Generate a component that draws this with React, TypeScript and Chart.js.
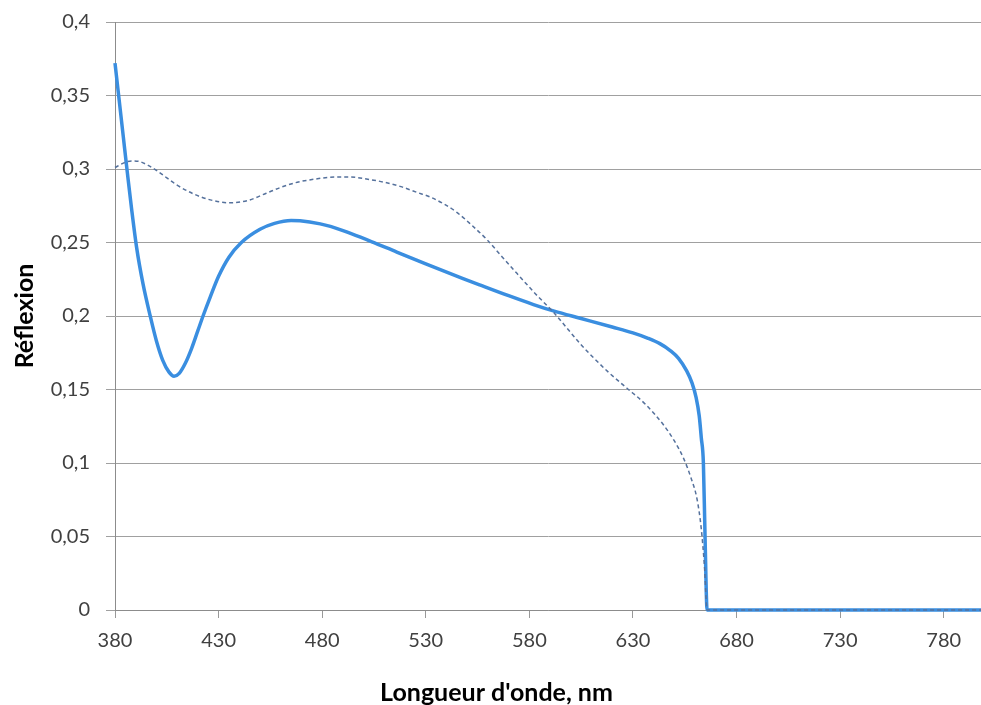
import React, { useEffect, useRef } from 'react';
import { Chart, registerables } from 'chart.js';

Chart.register(...registerables);

// Solid curve (thick blue)
const solidWavelengths = [
  380, 382, 384, 386, 388, 390.5, 393.5, 397, 400, 403, 406, 408.5, 411, 414, 417, 420, 422.5, 426, 430, 435,
  441, 450, 457, 465, 474, 484, 494, 504, 516, 530, 548, 556, 570, 582, 592, 605, 620, 630, 637, 643,
  648, 652, 656, 658.5, 660.5, 662, 663, 664, 664.8, 665.8, 700, 800,
];
const solidReflexion = [
  0.372, 0.347, 0.322, 0.297, 0.273, 0.246, 0.222, 0.2, 0.183, 0.17, 0.162, 0.159, 0.161, 0.168, 0.178, 0.19, 0.2, 0.213, 0.227, 0.24,
  0.25, 0.259, 0.263, 0.265, 0.264, 0.261, 0.256, 0.2505, 0.2435, 0.2355, 0.2255, 0.2212, 0.2138, 0.2078, 0.2033, 0.1983, 0.1925, 0.1885, 0.185, 0.1812,
  0.1765, 0.1712, 0.1625, 0.1545, 0.1445, 0.132, 0.117, 0.1, 0.05, 0, 0, 0,
];

// Dashed curve (thin grey-blue)
const dashedWavelengths = [
  380, 384, 388, 392, 396, 400, 405, 410, 418, 426, 435, 444, 453, 460, 468, 476, 486, 494, 502, 510,
  518, 526, 532, 539, 545, 552, 559.5, 567, 574, 583, 592, 598, 604.6, 610, 618, 627, 636, 644.7, 650, 654.5,
  658, 661, 663, 664.5, 665.8, 700, 800,
];
const dashedReflexion = [
  0.301, 0.304, 0.3055, 0.305, 0.3025, 0.299, 0.294, 0.289, 0.283, 0.279, 0.277, 0.2785, 0.2835, 0.2875, 0.291, 0.293, 0.2945, 0.2945, 0.293, 0.291,
  0.288, 0.284, 0.281, 0.276, 0.2705, 0.262, 0.252, 0.24, 0.229, 0.215, 0.202, 0.192, 0.181, 0.173, 0.162, 0.151, 0.14, 0.126, 0.115, 0.103,
  0.09, 0.075, 0.055, 0.03, 0, 0, 0,
];

const xTickValues = [380, 430, 480, 530, 580, 630, 680, 730, 780];
const yTickValues = [0, 0.05, 0.1, 0.15, 0.2, 0.25, 0.3, 0.35, 0.4];
const yTickLabels = ['0', '0,05', '0,1', '0,15', '0,2', '0,25', '0,3', '0,35', '0,4'];

const xAxisTitle = "Longueur d'onde, nm";
const yAxisTitle = 'Réflexion';

export default function App() {
  const canvasRef = useRef<HTMLCanvasElement | null>(null);

  useEffect(() => {
    const canvas = canvasRef.current;
    if (!canvas) return;
    const tickFont = { family: 'Lato', size: 20 };
    const titleFont = { family: 'Lato', size: 25, weight: 'bold' as const, lineHeight: 1 };
    const chart = new Chart(canvas, {
      type: 'line',
      data: {
        datasets: [
          {
            label: 'solid',
            data: solidWavelengths.map((x, i) => ({ x, y: solidReflexion[i] })),
            borderColor: '#3a8ee0',
            borderWidth: 3.5,
            pointRadius: 0,
            fill: false,
            cubicInterpolationMode: 'monotone',
            order: 1,
            clip: 4,
          },
          {
            label: 'dashed',
            data: dashedWavelengths.map((x, i) => ({ x, y: dashedReflexion[i] })),
            borderColor: '#55719c',
            borderWidth: 1.5,
            borderDash: [4, 3],
            pointRadius: 0,
            fill: false,
            cubicInterpolationMode: 'monotone',
            order: 0,
            clip: 4,
          },
        ],
      },
      options: {
        animation: false,
        responsive: false,
        events: [],
        layout: { padding: { top: 22, left: 12, right: 0, bottom: 0 } },
        plugins: {
          legend: { display: false },
          tooltip: { enabled: false },
          title: {
            display: true,
            text: xAxisTitle,
            position: 'bottom',
            align: 'center',
            color: '#000000',
            font: titleFont,
            padding: { top: 0, bottom: 0 },
          },
        },
        scales: {
          x: {
            type: 'linear',
            min: 380,
            max: 798,
            afterBuildTicks: (s: any) => {
              s.ticks = xTickValues.map((v) => ({ value: v }));
            },
            afterFit: (s: any) => {
              s.height = 70;
              s.paddingRight = 0;
            },
            ticks: {
              font: tickFont,
              color: '#404040',
              padding: 11,
              maxRotation: 0,
              autoSkip: false,
              callback: (v: any) => String(v),
            },
            grid: { drawOnChartArea: false, drawTicks: true, tickLength: 8, color: '#999999' },
            border: { display: true, color: '#8c8c8c', width: 1 },
          },
          y: {
            type: 'linear',
            min: 0,
            max: 0.4,
            afterBuildTicks: (s: any) => {
              s.ticks = yTickValues.map((v) => ({ value: v }));
            },
            afterFit: (s: any) => {
              s.width = 103;
              s.paddingTop = 0;
              s.paddingBottom = 0;
            },
            ticks: {
              font: tickFont,
              color: '#404040',
              padding: 16,
              autoSkip: false,
              callback: (v: any, i: number) => yTickLabels[i],
            },
            grid: { color: '#a0a0a0', tickLength: 9, drawTicks: true },
            border: { display: true, color: '#8c8c8c', width: 1 },
            title: {
              display: true,
              text: yAxisTitle,
              color: '#000000',
              font: titleFont,
              padding: { top: 0, bottom: 0 },
            },
          },
        },
      },
    });
    return () => chart.destroy();
  }, []);

  return (
    <div style={{ position: 'fixed', left: 0, top: 0, width: 981, height: 705, background: '#ffffff' }}>
      <canvas ref={canvasRef} width={981} height={705} style={{ display: 'block', width: 981, height: 705 }} />
    </div>
  );
}
